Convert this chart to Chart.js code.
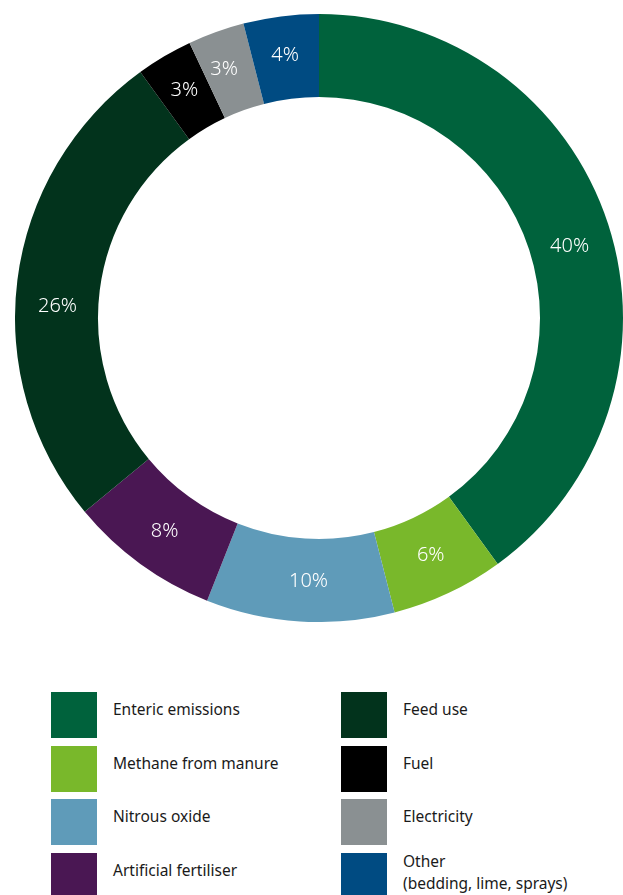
<!DOCTYPE html>
<html>
<head>
<meta charset="utf-8">
<script src="https://cdn.jsdelivr.net/npm/chart.js@4/dist/chart.umd.min.js"></script>
<style>
  html, body { margin: 0; padding: 0; background: #fff; }
  body { width: 623px; height: 895px; position: relative; overflow: hidden; font-family: "Noto Sans", sans-serif; }
  #chart-wrap { position: absolute; left: 15px; top: 14px; width: 608px; height: 608px; }
  #legend { position: absolute; left: 51px; top: 692px; width: 572px; }
  .item { position: absolute; height: 46px; }
  .swatch { position: absolute; left: 0; top: 0; width: 46px; height: 46px; }
  .text { position: absolute; left: 62px; top: 6px; font-size: 15.5px; line-height: 22px; color: #1a1a1a; white-space: nowrap; }
</style>
</head>
<body>
<div id="chart-wrap"><canvas id="chart"></canvas></div>
<div id="legend"></div>
<script>
// Segments clockwise from 12 o'clock
const categories = [
  "Enteric emissions", "Methane from manure", "Nitrous oxide", "Artificial fertiliser",
  "Feed use", "Fuel", "Electricity", "Other\n(bedding, lime, sprays)"
];
const shares = [40, 6, 10, 8, 26, 3, 3, 4];
const colors = ["#00623c", "#79b82b", "#5f9bb9", "#4a1753", "#02331c", "#000000", "#8a9092", "#004b82"];

// legend order: left column then right column
const legendLeft = [0, 1, 2, 3];
const legendRight = [4, 5, 6, 7];

// small hand nudges for the % labels (dx, dy), the original isn't placed exactly mid-slice
const labelNudge = [[1, 9], [0, 0], [6, 1], [0, 1], [-1, 21], [-1, -2], [-6, -2], [-1, -2]];

const sliceLabels = {
  id: "sliceLabels",
  afterDatasetsDraw(chart) {
    const ctx = chart.ctx;
    const meta = chart.getDatasetMeta(0);
    ctx.save();
    ctx.fillStyle = "#ffffff";
    ctx.font = "300 20px 'Noto Sans', sans-serif";
    ctx.textAlign = "center";
    ctx.textBaseline = "middle";
    meta.data.forEach((arc, i) => {
      const p = arc.tooltipPosition();
      const n = labelNudge[i] || [0, 0];
      ctx.fillText(shares[i] + "%", p.x + n[0], p.y + n[1]);
    });
    ctx.restore();
  }
};

new Chart(document.getElementById("chart"), {
  type: "doughnut",
  data: {
    labels: categories,
    datasets: [{ data: shares, backgroundColor: colors, borderWidth: 0, hoverOffset: 0 }]
  },
  options: {
    responsive: true,
    maintainAspectRatio: false,
    animation: false,
    cutout: "72.7%",
    layout: { padding: 0 },
    plugins: { legend: { display: false }, tooltip: { enabled: false } }
  },
  plugins: [sliceLabels]
});

function renderLegend() {
  const el = document.getElementById("legend");
  const cols = [legendLeft, legendRight];
  cols.forEach((col, c) => {
    col.forEach((idx, r) => {
      const item = document.createElement("div");
      item.className = "item";
      item.style.left = (c * 290) + "px";
      item.style.top = Math.round(r * 53.7) + "px";
      const sw = document.createElement("div");
      sw.className = "swatch";
      sw.style.background = colors[idx];
      const tx = document.createElement("div");
      tx.className = "text";
      tx.innerHTML = categories[idx].split("\n").join("<br>");
      if (categories[idx].includes("\n")) tx.style.top = "-3px";
      item.appendChild(sw);
      item.appendChild(tx);
      el.appendChild(item);
    });
  });
}
renderLegend();
</script>
</body>
</html>
